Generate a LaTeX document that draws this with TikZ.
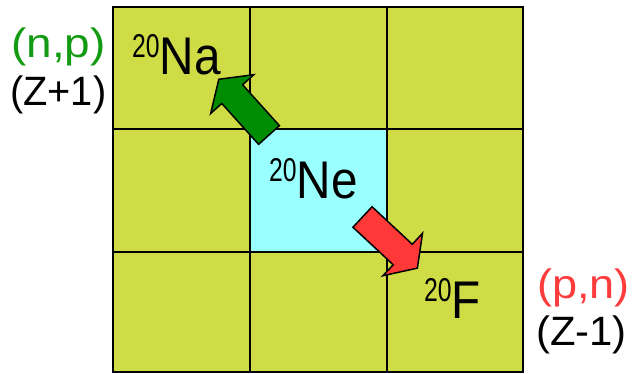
\documentclass[tikz,border=0pt]{standalone}
\usepackage{graphicx}
\usepackage{fontspec}
\setmainfont{Liberation Sans}
\usetikzlibrary{positioning}

\definecolor{cellolive}{RGB}{207,220,70}
\definecolor{cellcyan}{RGB}{153,255,255}
\definecolor{arrowgreen}{RGB}{0,140,0}
\definecolor{arrowred}{RGB}{255,56,56}
\definecolor{textgreen}{RGB}{20,155,20}
\definecolor{textred}{RGB}{255,60,60}

% mass number as superscript, then element symbol
\newcommand{\nuclide}[2]{\raisebox{17pt}{\fontsize{33}{33}\selectfont\scalebox{0.75}[1]{#1}}{\fontsize{53}{53}\selectfont\scalebox{0.9}[1]{#2}}}

\begin{document}
\begin{tikzpicture}[x=1pt, y=-1pt,
  cell/.style={draw=black, line width=2.5pt, fill=cellolive},
  reactlabel/.style={anchor=base west, inner sep=0pt, font=\fontsize{41}{41}\selectfont},
  nuc/.style={anchor=base west, inner sep=0pt},
  blockarrow/.style={draw=black, line width=1.5pt, line join=miter}]
\useasboundingbox (0,0) rectangle (634,374);
% grid
\foreach \x/\xx in {113/250, 250/387, 387/523}
  \foreach \y/\yy in {7/129, 129/252, 252/372}
    \draw[cell] (\x,\y) rectangle (\xx,\yy);
\draw[cell, fill=cellcyan] (250,129) rectangle (387,252);
% (n,p) arrow
\begin{scope}[shift={(269,135)}, rotate=132]
\draw[blockarrow, fill=arrowgreen] (0,14) -- (55,14) -- (55,29) -- (75,0) -- (55,-29) -- (55,-14) -- (0,-14) -- cycle;
\end{scope}
% (p,n) arrow
\begin{scope}[shift={(362.5,217)}, rotate=-43]
\draw[blockarrow, fill=arrowred] (0,14) -- (55,14) -- (55,29) -- (75,0) -- (55,-29) -- (55,-14) -- (0,-14) -- cycle;
\end{scope}
% nuclides
\node[nuc] (na) at (132,75) {\nuclide{20}{Na}};
\node[nuc] (ne) at (269,198) {\nuclide{20}{Ne}};
\node[nuc] (f) at (424,318) {\nuclide{20}{F}};
% reactions
\node[reactlabel, text=textgreen] (np) at (11,58) {\scalebox{1.12}[1]{(n,p)}};
\node[reactlabel] (zp) at (10,106) {\scalebox{0.97}[1]{(Z+1)}};
\node[reactlabel, text=textred] (pn) at (537,298) {\scalebox{1.1}[1]{(p,n)}};
\node[reactlabel] (zm) at (536,345) {\scalebox{1.02}[1]{(Z-1)}};
\end{tikzpicture}
\end{document}
